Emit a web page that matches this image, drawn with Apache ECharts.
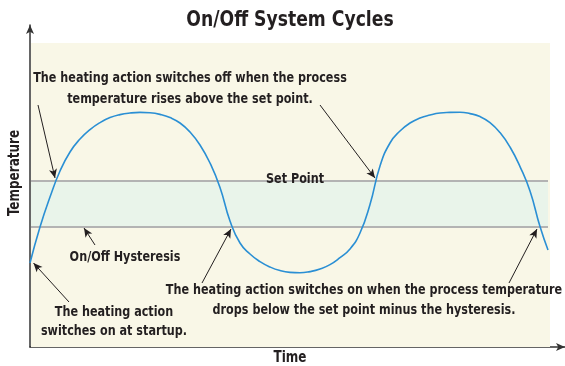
<!DOCTYPE html>
<html><head><meta charset="utf-8">
<script src="https://cdn.jsdelivr.net/npm/echarts@6/dist/echarts.min.js"></script>
<style>html,body{margin:0;padding:0;background:#fff}#c{width:565px;height:366px}</style>
</head><body><div id="c"></div>
<script>
// Curve: [time, temperature]
var curveTime = [0,2,4,6,8,10,12,14,16,18,20,22,24,26,28,30,32,34,36,38,40,42,44,46,48,50,52,54,56,58,60,62,64,66,68,70,72,74,76,78,80,82,84,86,88,90,92,94,96,98,100,102,103.6];
var curveTemp = [42,60,75,88,97.5,104,108.7,112.2,114.7,116.2,117,117.3,117.1,116.3,114.7,112,107.5,101,92,79.8,63,52,46.5,42.7,40,38.2,37.3,37.1,37.7,39,41.2,44.7,49,57,71.3,90.5,102,108,112,114.5,116,117,117.3,117.4,116.7,115.2,112.2,107.2,100,90.2,78,60.2,48.5];
var setPoint = 83;
var lowerPoint = 60.2;
var plotMaxTime = 104;
var plotMaxTemp = 152;
// Arrows: [fromTime, fromTemp, toTime, toTemp]
var arrows = [
  [1.6,121,5.0,84.5],
  [58,121,69,84.5],
  [13,51,10.8,59.5],
  [7.8,22.5,0.7,42],
  [34.4,32,40.2,59],
  [95.8,32,101.4,59]
];
var labels = {
  title: 'On/Off System Cycles',
  yName: 'Temperature',
  xName: 'Time',
  setPoint: 'Set Point',
  hyst: 'On/Off Hysteresis',
  off: 'The heating action switches off when the process\ntemperature rises above the set point.',
  startup: 'The heating action\nswitches on at startup.',
  on: 'The heating action switches on when the process temperature\ndrops below the set point minus the hysteresis.'
};

var FONT = '"DejaVu Sans Condensed","Liberation Sans Narrow","DejaVu Sans",sans-serif';
var TXT = '#231f20';
var chart = echarts.init(document.getElementById('c'));
var curve = curveTime.map(function(t,i){return [t, curveTemp[i]];});

function txt(text, x, y, size, lh, sx, rot){
  return {type:'text', x:x, y:y, rotation: rot||0, scaleX: sx||0.89, z:100,
    style:{text:text, fill:TXT, font:'bold '+size+'px '+FONT, align:'center', verticalAlign:'middle', textAlign:'center', textVerticalAlign:'middle', lineHeight:lh||size}};
}

chart.setOption({
  animation:false,
  grid:{left:30, right:0, top:25, bottom:19},
  xAxis:{type:'value', min:0, max:107, splitLine:{show:false}, axisTick:{show:false}, axisLabel:{show:false},
    axisLine:{show:true, symbol:['none','arrow'], symbolSize:[6,9], lineStyle:{color:'#333', width:1.5}}},
  yAxis:{type:'value', min:0, max:161, splitLine:{show:false}, axisTick:{show:false}, axisLabel:{show:false},
    axisLine:{show:true, symbol:['none','arrow'], symbolSize:[6,9], lineStyle:{color:'#333', width:1.5}}},
  series:[
    {type:'line', data:[], z:1, silent:true,
      markArea:{silent:true, itemStyle:{color:'#f9f7e7'}, data:[[{coord:[0.2,0]},{coord:[plotMaxTime,plotMaxTemp]}]]}},
    {type:'line', data:[], z:2, silent:true,
      markArea:{silent:true, itemStyle:{color:'#e9f4ea'}, data:[[{coord:[0.2,lowerPoint]},{coord:[plotMaxTime-0.4,setPoint]}]]},
      markLine:{silent:true, symbol:['none','none'], label:{show:false}, lineStyle:{color:'#b3b3b3', width:2, type:'solid'},
        data:[[{coord:[0.2,setPoint]},{coord:[plotMaxTime-0.4,setPoint]}],[{coord:[0.2,lowerPoint]},{coord:[plotMaxTime-0.4,lowerPoint]}]]}},
    {type:'line', data:curve, smooth:0.5, showSymbol:false, z:5, silent:true,
      lineStyle:{color:'#2a8fd4', width:1.6}},
    {type:'line', data:[], z:6, silent:true,
      markLine:{silent:true, symbol:['none','arrow'], symbolSize:[6,9], label:{show:false}, lineStyle:{color:TXT, width:1, type:'solid'},
        data: arrows.map(function(a){return [{coord:[a[0],a[1]]},{coord:[a[2],a[3]]}];})}}
  ],
  graphic:[
    txt(labels.title, 290, 20, 22, 22, 0.87),
    txt(labels.off, 190, 88.5, 14, 21),
    txt(labels.setPoint, 295, 179, 14),
    txt(labels.hyst, 125, 257, 14),
    txt(labels.startup, 114, 321.5, 14, 19),
    txt(labels.on, 364, 300, 14, 20),
    txt(labels.yName, 15, 173, 15, 15, 0.89, Math.PI/2),
    txt(labels.xName, 290, 358, 15)
  ]
});
</script></body></html>
